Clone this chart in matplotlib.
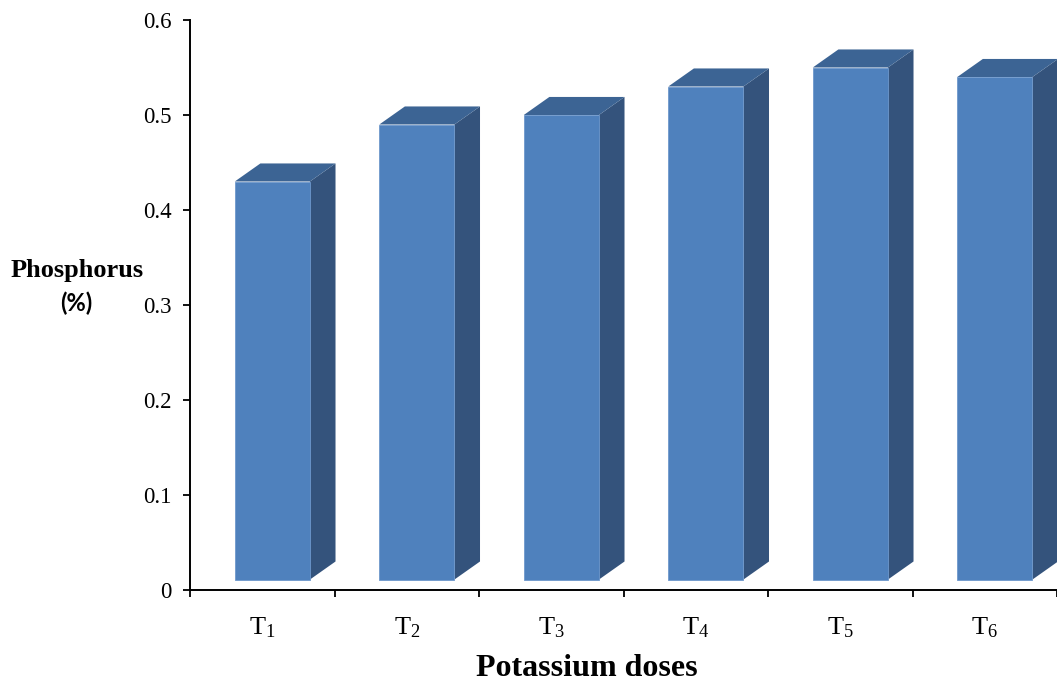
import matplotlib
matplotlib.use("Agg")
import matplotlib.pyplot as plt
from matplotlib.patches import Polygon

categories = ["1", "2", "3", "4", "5", "6"]
values = [0.43, 0.49, 0.50, 0.53, 0.55, 0.54]
yticks = [0, 0.1, 0.2, 0.3, 0.4, 0.5, 0.6]
ytick_labels = ["0", "0.1", "0.2", "0.3", "0.4", "0.5", "0.6"]

plt.rcParams["mathtext.fontset"] = "custom"
plt.rcParams["mathtext.rm"] = "Liberation Serif"
plt.rcParams["mathtext.it"] = "Liberation Serif:italic"
plt.rcParams["mathtext.bf"] = "Liberation Serif:bold"

W, H = 1057, 686
fig = plt.figure(figsize=(W / 100, H / 100), dpi=100)
left_px, bottom_px, top_px = 190, 590, 20
cat_px = 146.3
ax = fig.add_axes([left_px / W, (H - bottom_px) / H, 1 - left_px / W, (bottom_px - top_px) / H])
ax.set_xlim(0, (W - left_px) / cat_px)
ax.set_ylim(0, 0.6)

front_c = "#4F81BD"
top_c = "#3C6494"
side_c = "#34537C"
floor = 0.011
dx, dy = 0.177, 0.019
x_off, bar_w = 0.31, 0.52

for i, v in enumerate(values):
    x0 = i + x_off
    x1 = x0 + bar_w
    side = Polygon([(x1, floor), (x1 + dx, floor + dy), (x1 + dx, v + dy), (x1, v)],
                   closed=True, facecolor=side_c, edgecolor="none", zorder=2)
    top = Polygon([(x0, v), (x1, v), (x1 + dx, v + dy), (x0 + dx, v + dy)],
                  closed=True, facecolor=top_c, edgecolor="none", zorder=2)
    front = Polygon([(x0, floor), (x1, floor), (x1, v), (x0, v)],
                    closed=True, facecolor=front_c, edgecolor="#6E98CC", linewidth=0.6, zorder=3)
    for p in (side, top, front):
        ax.add_patch(p)

for s in ("top", "right"):
    ax.spines[s].set_visible(False)
for s in ("left", "bottom"):
    ax.spines[s].set_linewidth(1.4)
    ax.spines[s].set_color("black")

ax.set_yticks(yticks)
ax.set_yticklabels(ytick_labels, fontfamily="Liberation Serif", fontsize=16.5)
ax.set_xticks(range(len(categories) + 1))
ax.set_xticklabels([])
ax.set_xticks([i + 0.5 for i in range(len(categories))], minor=True)
ax.set_xticklabels([r"T$_{\mathrm{%s}}$" % c for c in categories], minor=True,
                   fontfamily="Liberation Serif", fontsize=19)
ax.tick_params(axis="x", which="minor", length=0, pad=18)
ax.tick_params(axis="x", which="major", direction="out", length=5, width=1.3)
ax.tick_params(axis="y", direction="out", length=5, width=1.3, pad=8)

fig.text(587 / W, 1 - 668 / H, "Potassium doses", ha="center", va="center",
         fontfamily="Liberation Serif", fontweight="bold", fontsize=23)
fig.text(77 / W, 1 - 270 / H, "Phosphorus", ha="center", va="center",
         fontfamily="Liberation Serif", fontweight="bold", fontsize=19)
fig.text(76 / W, 1 - 303 / H, "(%)", ha="center", va="center",
         fontfamily="Lato", fontweight="bold", fontsize=17)

fig.savefig("out.png", dpi=100)
